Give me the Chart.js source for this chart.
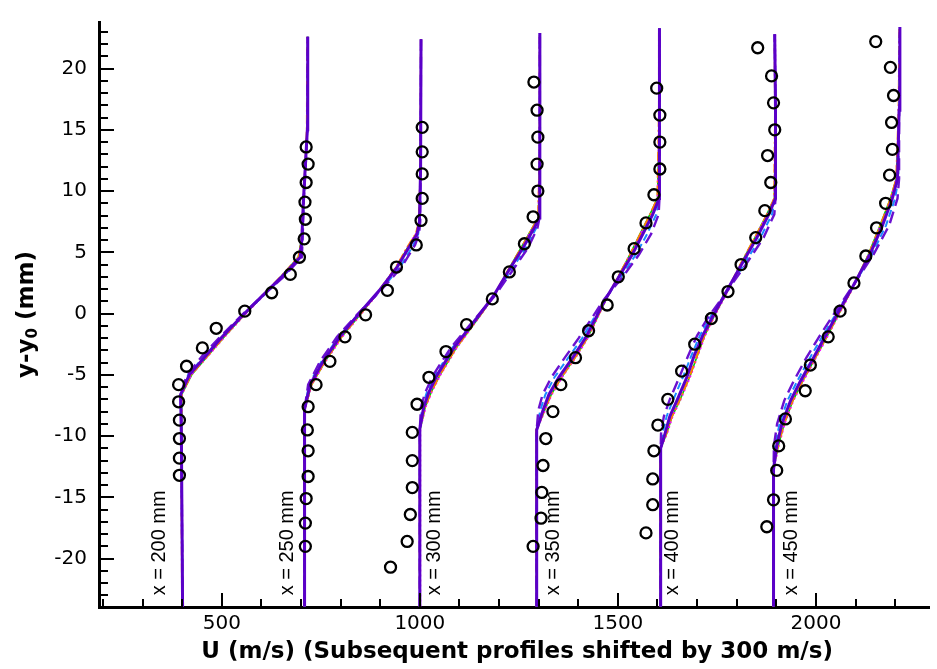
<!DOCTYPE html>
<html>
<head>
<meta charset="utf-8">
<script src="https://cdn.jsdelivr.net/npm/chart.js@4.4.1/dist/chart.umd.min.js"></script>
<style>
    html, body { margin: 0; padding: 0; background: #fff; }
</style>
</head>
<body>
<canvas id="grafico-perfiles" width="937" height="669"></canvas>
<script>
// perfiles de velocidad (U desplazado 300 m/s por estacion)
var perfiles = ['x = 200 mm', 'x = 250 mm', 'x = 300 mm', 'x = 350 mm', 'x = 400 mm', 'x = 450 mm'];

var etiquetasX = [500, 1000, 1500, 2000];
var etiquetasY = [-20, -15, -10, -5, 0, 5, 10, 15, 20];

// niveles y-y0 (mm) de las curvas CFD, uno por perfil
var yNiveles = [
    [-23.9, -10, -6.6, -5.0, -3.4, -1.9, -0.2, 1.4, 3.0, 4.6, 6.0, 9.2, 12.1, 15.0, 22.6],
    [-23.9, -10, -7.8, -5.8, -3.9, -1.9, -0.1, 1.9, 3.8, 5.6, 6.5, 7.5, 12.0, 22.4],
    [-23.9, -9.4, -7.6, -6.4, -5.0, -2.8, -0.4, 1.4, 3.6, 5.4, 7.0, 7.8, 14.0, 22.9],
    [-23.9, -9.5, -7.9, -6.6, -5.2, -3.6, -2.0, 1.2, 2.9, 4.8, 6.5, 8.1, 9.4, 16.6, 23.3],
    [-23.9, -11.0, -9.8, -8.4, -7.1, -5.2, -3.4, -1.8, -0.2, 1.8, 4.1, 6.2, 8.1, 9.4, 16.6, 22.8],
    [-23.9, -12.7, -10.8, -9.0, -7.1, -5.5, -3.6, -2.0, -0.2, 2.2, 4.8, 7.2, 9.4, 11.0, 16.6, 23.4]
];

var uMoradoSolido = [
    [401, 398, 396, 418, 461, 501, 551, 601, 651, 698, 702, 706, 711, 716, 717],
    [709, 709, 709, 723, 756, 798, 844, 898, 943, 976, 993, 999, 1002, 1003],
    [1000, 1000, 1010, 1023, 1044, 1086, 1143, 1185, 1226, 1261, 1289, 1301, 1303, 1303],
    [1295, 1295, 1311, 1326, 1351, 1386, 1418, 1469, 1501, 1536, 1563, 1588, 1604, 1605, 1605],
    [1608, 1608, 1619, 1631, 1649, 1674, 1693, 1714, 1740, 1774, 1814, 1851, 1881, 1898, 1898, 1896],
    [1893, 1893, 1901, 1914, 1936, 1961, 1994, 2021, 2051, 2093, 2136, 2168, 2193, 2206, 2210, 2212]
];
var uMoradoGuion = [
    [401, 398, 396, 412, 452, 496, 548, 601, 656, 702, 704, 707, 712, 716, 717],
    [709, 709, 709, 718, 748, 791, 841, 902, 954, 988, 998, 1001, 1002, 1003],
    [1000, 1000, 1003, 1014, 1034, 1078, 1140, 1188, 1236, 1274, 1297, 1302, 1303, 1303],
    [1295, 1295, 1299, 1310, 1332, 1366, 1401, 1466, 1510, 1553, 1584, 1603, 1605, 1605, 1605],
    [1608, 1608, 1609, 1616, 1630, 1655, 1678, 1700, 1730, 1775, 1825, 1868, 1895, 1898, 1898, 1896],
    [1893, 1893, 1894, 1902, 1920, 1944, 1976, 2006, 2042, 2092, 2145, 2185, 2206, 2210, 2210, 2212]
];
var uAzul = [
    [401, 398, 397, 415, 458, 500, 551, 603, 654, 700, 703, 707, 711, 716, 717],
    [709, 709, 709, 720, 752, 795, 843, 901, 950, 984, 996, 1000, 1002, 1003],
    [1000, 1000, 1006, 1018, 1039, 1082, 1142, 1187, 1232, 1268, 1294, 1302, 1303, 1303],
    [1295, 1295, 1304, 1317, 1340, 1375, 1410, 1468, 1506, 1545, 1574, 1597, 1605, 1605, 1605],
    [1608, 1608, 1613, 1623, 1639, 1664, 1686, 1707, 1735, 1775, 1820, 1860, 1889, 1898, 1898, 1896],
    [1893, 1893, 1897, 1908, 1928, 1953, 1985, 2014, 2047, 2093, 2141, 2177, 2200, 2208, 2210, 2212]
];
var uNaranja = [
    [400, 398, 398, 422, 465, 505, 553, 601, 649, 694, 701, 706, 711, 715, 716],
    [708, 708, 709, 726, 760, 802, 848, 898, 940, 972, 990, 998, 1002, 1003],
    [1000, 1000, 1013, 1028, 1050, 1091, 1146, 1186, 1224, 1257, 1285, 1299, 1303, 1303],
    [1294, 1294, 1314, 1331, 1357, 1391, 1422, 1470, 1499, 1531, 1557, 1582, 1600, 1604, 1604],
    [1607, 1607, 1622, 1636, 1655, 1680, 1700, 1718, 1742, 1775, 1811, 1846, 1877, 1895, 1897, 1896],
    [1892, 1892, 1904, 1919, 1941, 1966, 1998, 2025, 2054, 2094, 2133, 2163, 2189, 2203, 2209, 2211]
];
var uVerde = [
    [401, 399, 399, 424, 466, 506, 554, 602, 649, 693, 701, 706, 711, 716, 717],
    [709, 709, 710, 727, 761, 803, 849, 899, 941, 973, 991, 998, 1002, 1003],
    [1001, 1001, 1014, 1029, 1051, 1092, 1147, 1187, 1224, 1256, 1284, 1299, 1304, 1304],
    [1295, 1295, 1315, 1332, 1358, 1392, 1423, 1471, 1499, 1530, 1556, 1581, 1600, 1605, 1605],
    [1608, 1608, 1623, 1637, 1656, 1681, 1701, 1719, 1743, 1776, 1811, 1846, 1876, 1895, 1898, 1897],
    [1893, 1893, 1905, 1920, 1942, 1967, 1999, 2026, 2055, 2094, 2132, 2162, 2188, 2203, 2210, 2212]
];
var uMagenta = [
    [401, 399, 399, 423, 467, 507, 555, 603, 650, 694, 702, 706, 711, 716, 717],
    [709, 709, 710, 727, 762, 804, 850, 900, 941, 972, 990, 998, 1002, 1003],
    [1001, 1001, 1015, 1030, 1052, 1093, 1147, 1187, 1225, 1257, 1285, 1299, 1303, 1303],
    [1295, 1295, 1316, 1333, 1359, 1393, 1424, 1471, 1500, 1531, 1557, 1582, 1600, 1605, 1605],
    [1608, 1608, 1624, 1638, 1657, 1682, 1702, 1720, 1744, 1777, 1812, 1847, 1877, 1895, 1898, 1897],
    [1893, 1893, 1906, 1921, 1943, 1968, 2000, 2027, 2056, 2095, 2133, 2163, 2189, 2203, 2210, 2212]
];

// datos experimentales (circulos)
var expU = [
    [713, 718, 713, 710, 711, 708, 696, 673, 626, 558, 486, 451, 411, 391, 391, 393, 393, 393, 393],
    [1006, 1006, 1006, 1006, 1003, 991, 941, 918, 863, 811, 773, 738, 718, 716, 718, 718, 713, 711, 711],
    [1288, 1296, 1298, 1296, 1298, 1286, 1264, 1226, 1183, 1118, 1066, 1023, 993, 981, 981, 981, 976, 968, 926],
    [1598, 1606, 1606, 1606, 1591, 1571, 1541, 1501, 1473, 1426, 1393, 1356, 1336, 1318, 1311, 1308, 1306, 1286],
    [1853, 1888, 1893, 1896, 1878, 1886, 1871, 1848, 1811, 1778, 1736, 1694, 1661, 1626, 1601, 1591, 1588, 1588, 1571],
    [2151, 2188, 2196, 2191, 2193, 2186, 2176, 2153, 2126, 2096, 2061, 2031, 1986, 1973, 1923, 1906, 1901, 1893, 1876]
];
var expY = [
    [13.6, 12.2, 10.7, 9.1, 7.7, 6.1, 4.6, 3.2, 1.7, 0.2, -1.2, -2.8, -4.3, -5.8, -7.2, -8.7, -10.2, -11.8, -13.2],
    [15.2, 13.2, 11.4, 9.4, 7.6, 5.6, 3.8, 1.9, -0.1, -1.9, -3.9, -5.8, -7.6, -9.5, -11.2, -13.3, -15.1, -17.1, -19.0],
    [18.9, 16.6, 14.4, 12.2, 10.0, 7.9, 5.7, 3.4, 1.2, -0.9, -3.1, -5.2, -7.4, -9.7, -12.0, -14.2, -16.4, -18.6, -20.7],
    [18.4, 16.2, 14.0, 11.8, 9.7, 7.4, 5.3, 3.0, 0.7, -1.4, -3.6, -5.8, -8.0, -10.2, -12.4, -14.6, -16.7, -19.0],
    [21.7, 19.4, 17.2, 15.0, 12.9, 10.7, 8.4, 6.2, 4.0, 1.8, -0.4, -2.5, -4.7, -7.0, -9.1, -11.2, -13.5, -15.6, -17.9],
    [22.2, 20.1, 17.8, 15.6, 13.4, 11.3, 9.0, 7.0, 4.7, 2.5, 0.2, -1.9, -4.2, -6.3, -8.6, -10.8, -12.8, -15.2, -17.4]
];

// estilo de cada modelo (el primero queda encima)
var modelos = [
    { datos: uMoradoSolido, color: '#5a00c8', ancho: 3, guion: [] },
    { datos: uMoradoGuion, color: '#6a10d0', ancho: 2.4, guion: [12, 6] },
    { datos: uAzul, color: '#1a8cff', ancho: 2, guion: [7, 4] },
    { datos: uNaranja, color: '#ff8000', ancho: 2.2, guion: [9, 3, 2, 3] },
    { datos: uMagenta, color: '#ff00ff', ancho: 2, guion: [2, 3] },
    { datos: uVerde, color: '#00d000', ancho: 1.6, guion: [] }
];

// posicion (U) de los rotulos de cada estacion
var posRotulos = [343, 666, 1038, 1338, 1638, 1938];

var datasets = [];
for (var i = 0; i < perfiles.length; i++) {
    var puntos = [];
    for (var k = 0; k < expU[i].length; k++) {
        puntos.push({ x: expU[i][k], y: expY[i][k] });
    }
    datasets.push({
        label: 'exp ' + perfiles[i],
        data: puntos,
        showLine: false,
        pointRadius: 5.5,
        pointBorderWidth: 2.3,
        pointBorderColor: '#000',
        pointBackgroundColor: 'rgba(0,0,0,0)'
    });
}
for (var m = 0; m < modelos.length; m++) {
    for (var p = 0; p < perfiles.length; p++) {
        var linea = [];
        for (var j = 0; j < yNiveles[p].length; j++) {
            linea.push({ x: modelos[m].datos[p][j], y: yNiveles[p][j] });
        }
        datasets.push({
            label: 'modelo ' + m + ' ' + perfiles[p],
            data: linea,
            showLine: true,
            pointRadius: 0,
            borderColor: modelos[m].color,
            borderWidth: modelos[m].ancho,
            borderDash: modelos[m].guion,
            tension: 0
        });
    }
}

var marcasYTextos = {
    id: 'marcasYTextos',
    afterDraw: function (chart) {
        var ctx = chart.ctx;
        var a = chart.chartArea;
        var sx = chart.scales.x;
        var sy = chart.scales.y;
        ctx.save();
        ctx.strokeStyle = '#000';
        ctx.lineWidth = 2;
        ctx.beginPath();
        for (var v = -23; v <= 23; v++) {
            var py = Math.round(sy.getPixelForValue(v));
            var largo = (v % 5 === 0) ? 15 : 9;
            ctx.moveTo(a.left, py);
            ctx.lineTo(a.left + largo, py);
        }
        for (var u = 200; u <= 2200; u += 100) {
            var px = Math.round(sx.getPixelForValue(u));
            var largo2 = (u % 500 === 0) ? 14 : 8;
            ctx.moveTo(px, a.bottom);
            ctx.lineTo(px, a.bottom - largo2);
        }
        ctx.stroke();

        // rotulos de estacion
        ctx.fillStyle = '#000';
        ctx.font = '20px "Liberation Sans", Arial, sans-serif';
        ctx.textAlign = 'left';
        ctx.textBaseline = 'middle';
        for (var i = 0; i < perfiles.length; i++) {
            ctx.save();
            ctx.translate(sx.getPixelForValue(posRotulos[i]), sy.getPixelForValue(-23.0));
            ctx.rotate(-Math.PI / 2);
            ctx.fillText(perfiles[i], 0, 0);
            ctx.restore();
        }

        // titulo eje x
        ctx.font = 'bold 23px "DejaVu Sans", sans-serif';
        ctx.textAlign = 'center';
        ctx.textBaseline = 'alphabetic';
        ctx.fillText('U (m/s) (Subsequent profiles shifted by 300 m/s)', (a.left + a.right) / 2 + 3, 658);

        // titulo eje y con subindice
        var grande = 'bold 23px "DejaVu Sans", sans-serif';
        var chico = 'bold 15px "DejaVu Sans", sans-serif';
        ctx.font = grande;
        var w1 = ctx.measureText('y-y').width;
        var w3 = ctx.measureText(' (mm)').width;
        ctx.font = chico;
        var w2 = ctx.measureText('0').width;
        var total = w1 + w2 + w3;
        ctx.save();
        ctx.translate(27, (a.top + a.bottom) / 2);
        ctx.rotate(-Math.PI / 2);
        ctx.textAlign = 'left';
        ctx.textBaseline = 'middle';
        ctx.font = grande;
        ctx.fillText('y-y', -total / 2, 0);
        ctx.font = chico;
        ctx.fillText('0', -total / 2 + w1, 6);
        ctx.font = grande;
        ctx.fillText(' (mm)', -total / 2 + w1 + w2, 0);
        ctx.restore();
        ctx.restore();
    }
};

Chart.defaults.font.family = '"DejaVu Sans", sans-serif';
Chart.defaults.color = '#000';

const ctx = document.getElementById('grafico-perfiles');
var myChart = new Chart(ctx, {
    type: 'scatter',
    data: { datasets: datasets },
    options: {
        responsive: false,
        animation: false,
        events: [],
        layout: { padding: { top: 10, right: 0, bottom: 0, left: 0 } },
        plugins: {
            legend: { display: false },
            tooltip: { enabled: false }
        },
        scales: {
            x: {
                type: 'linear',
                min: 190,
                max: 2286,
                afterFit: function (scale) { scale.height = 62; },
                afterBuildTicks: function (scale) {
                    scale.ticks = etiquetasX.map(function (v) { return { value: v }; });
                },
                grid: { display: false, drawTicks: false },
                border: { display: true, color: '#000', width: 3 },
                ticks: {
                    padding: 7,
                    maxRotation: 0,
                    font: { size: 20, lineHeight: 1 },
                    callback: function (v) { return v; }
                }
            },
            y: {
                type: 'linear',
                min: -23.95,
                max: 23.8,
                afterFit: function (scale) { scale.width = 99; },
                afterBuildTicks: function (scale) {
                    scale.ticks = etiquetasY.map(function (v) { return { value: v }; });
                },
                grid: { display: false, drawTicks: false },
                border: { display: true, color: '#000', width: 3 },
                ticks: {
                    padding: 12,
                    font: { size: 20, lineHeight: 1 },
                    callback: function (v) { return v; }
                }
            }
        }
    },
    plugins: [marcasYTextos]
});
</script>
</body>
</html>
